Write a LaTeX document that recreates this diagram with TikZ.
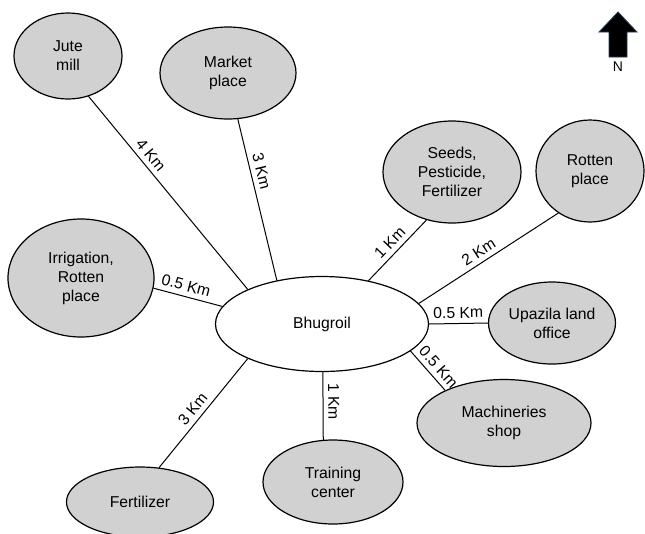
\documentclass[tikz,border=0pt]{standalone}
\usepackage{fontspec}
\setmainfont{Liberation Sans}
\usetikzlibrary{shapes.geometric}
\definecolor{placegray}{RGB}{209,209,209}
\definecolor{arrowblue}{RGB}{40,60,95}
\begin{document}
\begin{tikzpicture}[x=0.75pt,y=-0.75pt,
  every node/.style={font=\fontsize{11.8}{14.25}\selectfont},
  place/.style={ellipse, draw=black, line width=0.9pt, fill=placegray, inner sep=0pt, align=center},
  hub/.style={ellipse, draw=black, line width=0.9pt, fill=white, inner sep=0pt, align=center},
  link/.style={draw=black, line width=0.75pt},
  dist/.style={sloped, above, inner sep=3.6pt}]
\useasboundingbox (0,0) rectangle (645,533);

\node[place, minimum width=81pt, minimum height=64.5pt] (jute) at (68,56) {Jute\\mill};
\node[place, minimum width=102pt, minimum height=69pt] (market) at (228,73) {Market\\place};
\node[place, minimum width=103.5pt, minimum height=76.5pt] (seeds) at (452,172) {Seeds,\\Pesticide,\\Fertilizer};
\node[place, minimum width=81pt, minimum height=76.5pt] (rotten) at (590,171) {Rotten\\place};
\node[place, minimum width=109.5pt, minimum height=88.5pt] (irr) at (81,278) {Irrigation,\\Rotten\\place};
\node[hub, minimum width=159.75pt, minimum height=71.25pt] (bh) at (322,324) {Bhugroil};
\node[place, minimum width=95.25pt, minimum height=61.5pt] (upa) at (552,323) {Upazila land\\office};
\node[place, minimum width=130.5pt, minimum height=65.25pt] (mach) at (504,423) {Machineries\\shop};
\node[place, minimum width=105pt, minimum height=63pt] (train) at (333,482) {Training\\center};
\node[place, minimum width=110.25pt, minimum height=52.5pt] (fert) at (140,502) {Fertilizer};

\draw[link] (jute.-63.4) -- node[dist,pos=0.34]{4 Km} (bh.155.6);
\draw[link] (market.-78) -- node[dist,pos=0.34]{3 Km} (bh.136.3);
\draw[link] (bh.43) -- node[dist,pos=0.5]{1 Km} (seeds.-118.8);
\draw[link] (bh.12) -- node[dist,pos=0.47]{2 Km} (rotten.-127);
\draw[link] (bh.0) -- node[dist,pos=0.5]{0.5 Km} (upa.180);
\draw[link] (bh.-17.2) -- node[dist,pos=0.58]{0.5 Km} (mach.151.9);
\draw[link] (bh.-89) -- node[dist,pos=0.435]{1 Km} (train.103.5);
\draw[link] (fert.61.4) -- node[dist,pos=0.474]{3 Km} (bh.-155.6);
\draw[link] (irr.-8.6) -- node[dist,pos=0.434]{0.5 Km} (bh.170.3);

\filldraw[fill=black, draw=arrowblue, line width=0.6pt]
  (618,12) -- (637,32) -- (627,32) -- (627,57) -- (609,57) -- (609,32) -- (599,32) -- cycle;
\node[font=\fontsize{10.5}{12}\selectfont] (north) at (618,67) {N};
\end{tikzpicture}
\end{document}
